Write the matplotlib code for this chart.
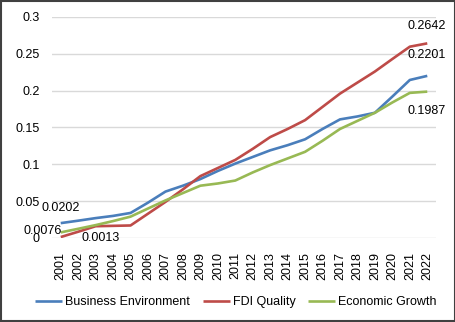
import matplotlib
matplotlib.use("Agg")
import matplotlib.pyplot as plt
from matplotlib.patches import Rectangle

years = [str(y) for y in range(2001, 2023)]
business_env = [0.0202, 0.0235, 0.027, 0.030, 0.034, 0.048, 0.063, 0.071, 0.080, 0.091, 0.101,
                0.110, 0.119, 0.126, 0.134, 0.148, 0.161, 0.165, 0.170, 0.192, 0.2145, 0.2201]
fdi_quality = [0.0013, 0.0085, 0.016, 0.0165, 0.017, 0.033, 0.049, 0.066, 0.084, 0.095, 0.106,
               0.121, 0.137, 0.148, 0.160, 0.178, 0.196, 0.211, 0.226, 0.243, 0.2597, 0.2642]
econ_growth = [0.0076, 0.0125, 0.0175, 0.023, 0.029, 0.040, 0.051, 0.061, 0.071, 0.074, 0.078,
               0.089, 0.099, 0.108, 0.117, 0.132, 0.148, 0.159, 0.170, 0.184, 0.197, 0.1987]
yticks = [0, 0.05, 0.1, 0.15, 0.2, 0.25, 0.3]
ytick_labels = ["0", "0.05", "0.1", "0.15", "0.2", "0.25", "0.3"]

plt.rcParams['font.family'] = ['Liberation Sans', 'DejaVu Sans']
fs = 9

W, H = 456, 322
fig = plt.figure(figsize=(W / 100, H / 100), dpi=100)
ax = fig.add_axes([52 / W, 1 - 238 / H, (436 - 52) / W, (238 - 17) / H])

x = list(range(len(years)))
series = [("Business Environment", business_env, "#4A7EBB"),
          ("FDI Quality", fdi_quality, "#BE4B48"),
          ("Economic Growth", econ_growth, "#98B954")]
for name, vals, col in series:
    ax.plot(x, vals, color=col, lw=1.9, label=name, solid_capstyle='butt')

ax.set_xlim(-0.5, len(years) - 0.5)
ax.set_ylim(0, 0.3)
ax.set_yticks(yticks)
ax.set_yticklabels(ytick_labels)
ax.set_xticks(x)
ax.set_xticklabels(years, rotation=90)
ax.grid(axis='y', color='#D9D9D9', lw=1)
ax.set_axisbelow(True)
for s in ax.spines.values():
    s.set_visible(False)
ax.tick_params(length=0, labelsize=fs)
ax.tick_params(axis='y', pad=9)
ax.tick_params(axis='x', pad=10)

# data labels
def lab(i, vals, dx, dy, ha='center'):
    ax.annotate(f"{vals[i]:.4f}", (x[i], vals[i]), xytext=(dx, dy),
                textcoords='offset pixels', ha=ha, va='center', fontsize=fs)

lab(0, business_env, -19, 15, ha='left')
lab(0, econ_growth, 1, 1, ha='right')
lab(0, fdi_quality, 21, -1, ha='left')
lab(-1, fdi_quality, -1, 17)
lab(-1, business_env, -1, 21)
lab(-1, econ_growth, -1, -19)

fig.legend(loc='center', bbox_to_anchor=(236 / W, 1 - 302 / H), ncol=3, frameon=False,
           fontsize=fs, handlelength=2.15, columnspacing=1.0, handletextpad=0.25)

fig.patches.append(Rectangle((0.002, 0.003), 0.996, 0.994, transform=fig.transFigure,
                             fill=False, edgecolor='#404040', lw=1.5))

fig.savefig("out.png", dpi=100)
